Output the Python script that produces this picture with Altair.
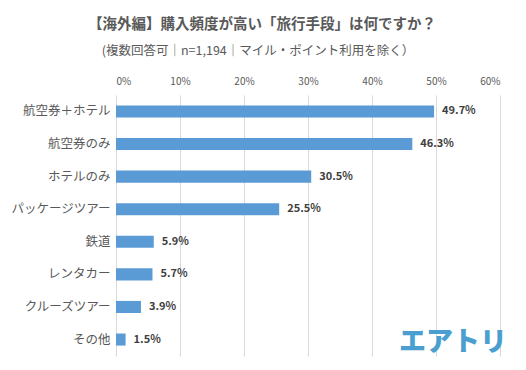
import altair as alt
import pandas as pd

categories = ["航空券＋ホテル", "航空券のみ", "ホテルのみ", "パッケージツアー", "鉄道", "レンタカー", "クルーズツアー", "その他"]
values = [49.7, 46.3, 30.5, 25.5, 5.9, 5.7, 3.9, 1.5]
x_ticks = [0, 10, 20, 30, 40, 50, 60]

title_text = "【海外編】購入頻度が高い「旅行手段」は何ですか？"
subtitle_text = "(複数回答可｜n=1,194｜マイル・ポイント利用を除く）"
logo_text = "エアトリ"

df = pd.DataFrame({"cat": categories, "val": values})
df["label"] = [f"{v:.1f}%" for v in values]

FONT = "Noto Sans CJK JP"

x_enc = alt.X("val:Q", scale=alt.Scale(domain=[0, 60]),
              axis=alt.Axis(orient="top", values=x_ticks, labelExpr="datum.value + '%'",
                            title=None, domain=False, ticks=False, grid=True,
                            gridColor="#d9d9d9", labelColor="#595959", labelFontSize=10,
                            labelFont=FONT, labelPadding=9))
y_enc = alt.Y("cat:N", sort=categories,
              scale=alt.Scale(paddingInner=0.63, paddingOuter=0.32),
              axis=alt.Axis(title=None, domain=False, ticks=False, grid=False,
                            labelColor="#595959", labelFontSize=12.5, labelFont=FONT,
                            labelPadding=6))

bars = alt.Chart(df).mark_bar(color="#5b9bd5").encode(x=x_enc, y=y_enc)

labels = alt.Chart(df).mark_text(align="left", baseline="middle", dx=8, fontSize=11,
                                 fontWeight="bold", color="#404040", font=FONT).encode(
    x="val:Q", y=alt.Y("cat:N", sort=categories), text="label:N")

title = alt.Chart(pd.DataFrame({"t": [title_text]})).mark_text(
    align="center", baseline="middle", fontSize=14.5, fontWeight="bold",
    color="#595959", font=FONT).encode(x=alt.value(146), y=alt.value(-70), text="t:N")

subtitle = alt.Chart(pd.DataFrame({"t": [subtitle_text]})).mark_text(
    align="center", baseline="middle", fontSize=12.5,
    color="#595959", font=FONT).encode(x=alt.value(142), y=alt.value(-44), text="t:N")

logo = alt.Chart(pd.DataFrame({"t": [logo_text]})).mark_text(
    align="center", baseline="middle", fontSize=27, fontWeight=900,
    color="#4a9fd0", font=FONT).encode(x=alt.value(337), y=alt.value(248), text="t:N")

chart = alt.layer(bars, labels, title, subtitle, logo).properties(
    width=384, height=261,
    autosize=alt.AutoSizeParams(type="none"),
    padding={"left": 108, "top": 87, "right": 18, "bottom": 6},
    background="white",
).configure_view(stroke=None)

chart.save("out.html", embed_options={"renderer": "svg", "actions": False})
